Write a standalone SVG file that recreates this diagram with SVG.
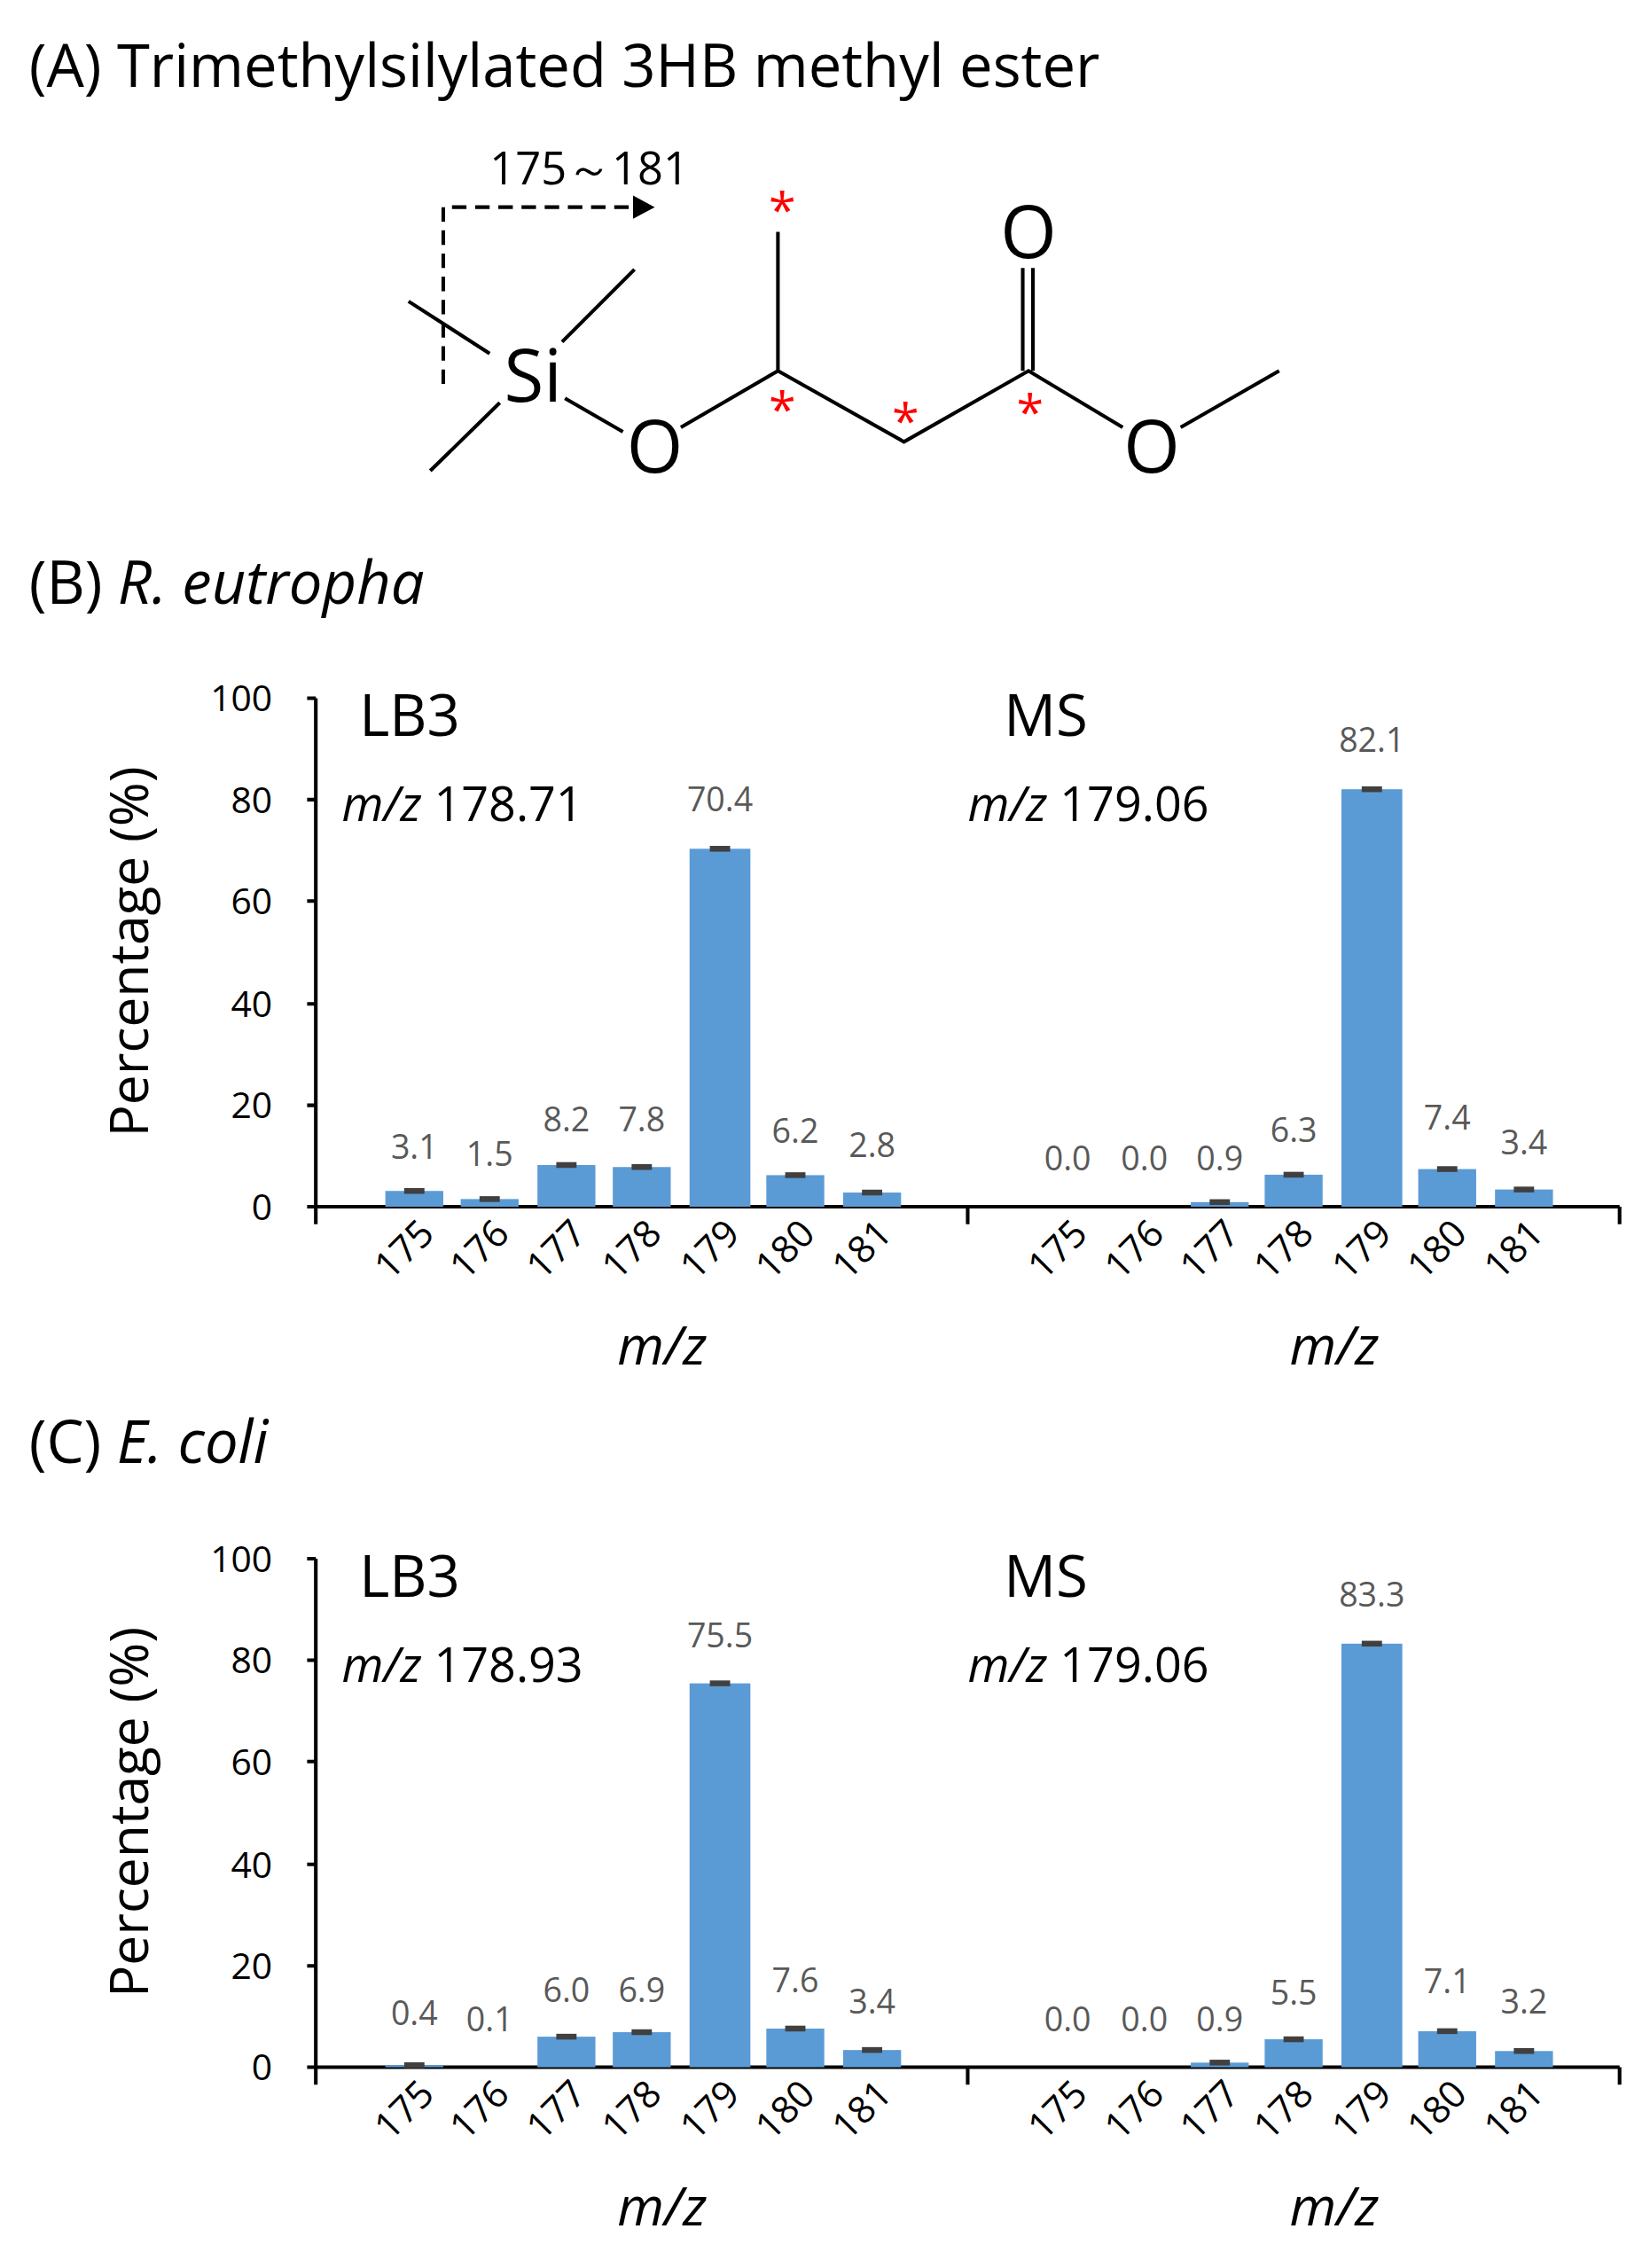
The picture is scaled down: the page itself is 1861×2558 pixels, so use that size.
<svg xmlns="http://www.w3.org/2000/svg" width="1861" height="2558" viewBox="0 0 1861 2558">
<style>
text{font-family:"Open Sans","Liberation Sans",sans-serif;fill:#000}
.bond{stroke:#000;stroke-width:2.5;fill:none}
.atom{font-size:50px;text-anchor:middle}
.ast{font-size:34px;fill:#ff0000;text-anchor:middle}
.ax{stroke:#000;stroke-width:2.5;fill:none}
.bar{fill:#5b9bd5}
.err{stroke:#404040;stroke-width:4}
.val{font-size:23px;fill:#595959;text-anchor:middle}
.yt{font-size:25px;text-anchor:end}
.xt{font-size:26px;text-anchor:end}
.big{font-size:40px}
.mz{font-size:33px}
</style>
<rect width="1861" height="2558" fill="#fff"/>
<g transform="scale(1.6339)">
<text x="20" y="60" style="font-size:41px">(A) Trimethylsilylated 3HB methyl ester</text>
<g id="molecule">
<path class="bond" d="M282,208 L338,244 M438,186 L388,236 M345,278 L297,325 M390,275 L430,298 M470,295 L537,256 L537,160 M537,256 L624,305 L710,256 L775,295 M815,295 L883,256 M706,256 L706,185 M713,256 L713,185"/>
<text class="atom" x="368" y="277">Si</text>
<text class="atom" x="452" y="326">O</text>
<text class="atom" x="710" y="178">O</text>
<text class="atom" x="795" y="326">O</text>
<text class="ast" x="540" y="157">*</text>
<text class="ast" x="540" y="295">*</text>
<text class="ast" x="625" y="303">*</text>
<text class="ast" x="711" y="297">*</text>
</g>
<g id="connectors">
<path d="M306,265 L306,143 L440,143" stroke="#000" stroke-width="2.5" stroke-dasharray="10,6" fill="none"/>
<path d="M437,135 L452,143 L437,151 Z" fill="#000"/>
<text x="338" y="127" style="font-size:31px">175～181</text>
</g>
<text x="20" y="417" style="font-size:41px">(B) <tspan font-style="italic">R. eutropha</tspan></text>
<text x="20" y="1010" style="font-size:41px">(C) <tspan font-style="italic">E. coli</tspan></text>

<g id="chartB">
<path class="ax" d="M218,482 L218,845 M212,482 L218,482 M212,552 L218,552 M212,622 L218,622 M212,693 L218,693 M212,763 L218,763 M212,833 L1118,833 M668,833 L668,845 M1118,833 L1118,845"/>
<g class="yt"><text x="188" y="842">0</text><text x="188" y="772">20</text><text x="188" y="702">40</text><text x="188" y="631">60</text><text x="188" y="561">80</text><text x="188" y="491">100</text></g>
<text transform="translate(102,657) rotate(-90)" text-anchor="middle" style="font-size:37px">Percentage (%)</text>
<text class="big" x="248" y="508">LB3</text>
<text class="big" x="693" y="508">MS</text>
<text class="mz" x="236" y="567"><tspan font-style="italic">m/z</tspan> 178.71</text>
<text class="mz" x="668" y="567"><tspan font-style="italic">m/z</tspan> 179.06</text>
<g>
<rect class="bar" x="266" y="822.1" width="40" height="10.9"/><line class="err" x1="279" x2="293" y1="822.1" y2="822.1"/><text class="val" x="286" y="800">3.1</text>
<rect class="bar" x="318" y="827.7" width="40" height="5.3"/><line class="err" x1="331" x2="345" y1="827.7" y2="827.7"/><text class="val" x="338" y="805">1.5</text>
<rect class="bar" x="371" y="804.2" width="40" height="28.8"/><line class="err" x1="384" x2="398" y1="804.2" y2="804.2"/><text class="val" x="391" y="781">8.2</text>
<rect class="bar" x="423" y="805.6" width="40" height="27.4"/><line class="err" x1="436" x2="450" y1="805.6" y2="805.6"/><text class="val" x="443" y="781">7.8</text>
<rect class="bar" x="476" y="585.9" width="42" height="247.1"/><line class="err" x1="490" x2="504" y1="585.9" y2="585.9"/><text class="val" x="497" y="560">70.4</text>
<rect class="bar" x="529" y="811.2" width="40" height="21.8"/><line class="err" x1="542" x2="556" y1="811.2" y2="811.2"/><text class="val" x="549" y="789">6.2</text>
<rect class="bar" x="582" y="823.2" width="40" height="9.8"/><line class="err" x1="595" x2="609" y1="823.2" y2="823.2"/><text class="val" x="602" y="799">2.8</text>
</g>
<g>
<text class="val" x="737" y="808">0.0</text>
<text class="val" x="790" y="808">0.0</text>
<rect class="bar" x="822" y="829.8" width="40" height="3.2"/><line class="err" x1="835" x2="849" y1="829.8" y2="829.8"/><text class="val" x="842" y="808">0.9</text>
<rect class="bar" x="873" y="810.9" width="40" height="22.1"/><line class="err" x1="886" x2="900" y1="810.9" y2="810.9"/><text class="val" x="893" y="788">6.3</text>
<rect class="bar" x="926" y="544.8" width="42" height="288.2"/><line class="err" x1="940" x2="954" y1="544.8" y2="544.8"/><text class="val" x="947" y="519">82.1</text>
<rect class="bar" x="979" y="807" width="40" height="26"/><line class="err" x1="992" x2="1006" y1="807" y2="807"/><text class="val" x="999" y="780">7.4</text>
<rect class="bar" x="1032" y="821.1" width="40" height="11.9"/><line class="err" x1="1045" x2="1059" y1="821.1" y2="821.1"/><text class="val" x="1052" y="797">3.4</text>
</g>
<g class="xt">
<text transform="translate(301,853) rotate(-45)">175</text><text transform="translate(353,853) rotate(-45)">176</text><text transform="translate(406,853) rotate(-45)">177</text><text transform="translate(458,853) rotate(-45)">178</text><text transform="translate(512,853) rotate(-45)">179</text><text transform="translate(564,853) rotate(-45)">180</text><text transform="translate(617,853) rotate(-45)">181</text>
<text transform="translate(752,853) rotate(-45)">175</text><text transform="translate(805,853) rotate(-45)">176</text><text transform="translate(857,853) rotate(-45)">177</text><text transform="translate(908,853) rotate(-45)">178</text><text transform="translate(962,853) rotate(-45)">179</text><text transform="translate(1014,853) rotate(-45)">180</text><text transform="translate(1067,853) rotate(-45)">181</text>
</g>
<text x="457" y="942" text-anchor="middle" font-style="italic" style="font-size:37px">m/z</text>
<text x="921" y="942" text-anchor="middle" font-style="italic" style="font-size:37px">m/z</text>
</g>

<g id="chartC" transform="translate(0,594)">
<path class="ax" d="M218,482 L218,845 M212,482 L218,482 M212,552 L218,552 M212,622 L218,622 M212,693 L218,693 M212,763 L218,763 M212,833 L1118,833 M668,833 L668,845 M1118,833 L1118,845"/>
<g class="yt"><text x="188" y="842">0</text><text x="188" y="772">20</text><text x="188" y="702">40</text><text x="188" y="631">60</text><text x="188" y="561">80</text><text x="188" y="491">100</text></g>
<text transform="translate(102,657) rotate(-90)" text-anchor="middle" style="font-size:37px">Percentage (%)</text>
<text class="big" x="248" y="508">LB3</text>
<text class="big" x="693" y="508">MS</text>
<text class="mz" x="236" y="567"><tspan font-style="italic">m/z</tspan> 178.93</text>
<text class="mz" x="668" y="567"><tspan font-style="italic">m/z</tspan> 179.06</text>
<g>
<rect class="bar" x="266" y="831.6" width="40" height="1.4"/><line class="err" x1="279" x2="293" y1="831.6" y2="831.6"/><text class="val" x="286" y="804">0.4</text>
<text class="val" x="338" y="808">0.1</text>
<rect class="bar" x="371" y="811.9" width="40" height="21.1"/><line class="err" x1="384" x2="398" y1="811.9" y2="811.9"/><text class="val" x="391" y="788">6.0</text>
<rect class="bar" x="423" y="808.8" width="40" height="24.2"/><line class="err" x1="436" x2="450" y1="808.8" y2="808.8"/><text class="val" x="443" y="788">6.9</text>
<rect class="bar" x="476" y="568" width="42" height="265"/><line class="err" x1="490" x2="504" y1="568" y2="568"/><text class="val" x="497" y="543">75.5</text>
<rect class="bar" x="529" y="806.3" width="40" height="26.7"/><line class="err" x1="542" x2="556" y1="806.3" y2="806.3"/><text class="val" x="549" y="781">7.6</text>
<rect class="bar" x="582" y="821.1" width="40" height="11.9"/><line class="err" x1="595" x2="609" y1="821.1" y2="821.1"/><text class="val" x="602" y="796">3.4</text>
</g>
<g>
<text class="val" x="737" y="808">0.0</text>
<text class="val" x="790" y="808">0.0</text>
<rect class="bar" x="822" y="829.8" width="40" height="3.2"/><line class="err" x1="835" x2="849" y1="829.8" y2="829.8"/><text class="val" x="842" y="808">0.9</text>
<rect class="bar" x="873" y="813.7" width="40" height="19.3"/><line class="err" x1="886" x2="900" y1="813.7" y2="813.7"/><text class="val" x="893" y="790">5.5</text>
<rect class="bar" x="926" y="540.6" width="42" height="292.4"/><line class="err" x1="940" x2="954" y1="540.6" y2="540.6"/><text class="val" x="947" y="515">83.3</text>
<rect class="bar" x="979" y="808.1" width="40" height="24.9"/><line class="err" x1="992" x2="1006" y1="808.1" y2="808.1"/><text class="val" x="999" y="782">7.1</text>
<rect class="bar" x="1032" y="821.8" width="40" height="11.2"/><line class="err" x1="1045" x2="1059" y1="821.8" y2="821.8"/><text class="val" x="1052" y="796">3.2</text>
</g>
<g class="xt">
<text transform="translate(301,853) rotate(-45)">175</text><text transform="translate(353,853) rotate(-45)">176</text><text transform="translate(406,853) rotate(-45)">177</text><text transform="translate(458,853) rotate(-45)">178</text><text transform="translate(512,853) rotate(-45)">179</text><text transform="translate(564,853) rotate(-45)">180</text><text transform="translate(617,853) rotate(-45)">181</text>
<text transform="translate(752,853) rotate(-45)">175</text><text transform="translate(805,853) rotate(-45)">176</text><text transform="translate(857,853) rotate(-45)">177</text><text transform="translate(908,853) rotate(-45)">178</text><text transform="translate(962,853) rotate(-45)">179</text><text transform="translate(1014,853) rotate(-45)">180</text><text transform="translate(1067,853) rotate(-45)">181</text>
</g>
<text x="457" y="942" text-anchor="middle" font-style="italic" style="font-size:37px">m/z</text>
<text x="921" y="942" text-anchor="middle" font-style="italic" style="font-size:37px">m/z</text>
</g>
</g>
</svg>
